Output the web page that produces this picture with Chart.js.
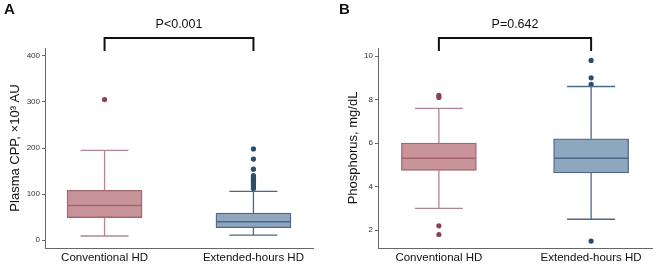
<!DOCTYPE html>
<html>
<head>
<meta charset="utf-8">
<script src="https://cdn.jsdelivr.net/npm/chart.js@4.4.1/dist/chart.umd.min.js"></script>
<style>
  html, body { margin: 0; padding: 0; background: #fff; }
  body { width: 661px; height: 275px; position: relative; overflow: hidden; font-family: "Liberation Sans", Arial, sans-serif; }
  .panel { position: absolute; top: 0; height: 275px; }
  #wrapA { left: 0; width: 330px; }
  #wrapB { left: 330px; width: 331px; }
  .tag { position: absolute; top: 0; font: bold 15px "Liberation Sans", Arial, sans-serif; color: #111; }
</style>
</head>
<body>
<div class="panel" id="wrapA"><canvas id="chartA" width="330" height="275"></canvas></div>
<div class="panel" id="wrapB"><canvas id="chartB" width="331" height="275"></canvas></div>
<div class="tag" style="left:4px">A</div>
<div class="tag" style="left:339px">B</div>
<script>
// 그룹 이름
var groups = ['Conventional HD', 'Extended-hours HD'];

// A: Plasma CPP (x10^3 AU)
var cppLow = [9, 11];
var cppQ1 = [49, 27];
var cppMed = [75, 40];
var cppQ3 = [108, 59];
var cppHigh = [195, 106];
var cppOutConv = [305];
var cppOutExt = [198, 176, 154, 140, 136, 132, 128, 124, 120, 116, 112];
var cppTicks = [0, 100, 200, 300, 400];

// B: Phosphorus (mg/dL)
var phLow = [3.0, 2.5];
var phQ1 = [4.75, 4.63];
var phMed = [5.3, 5.3];
var phQ3 = [6.0, 6.2];
var phHigh = [7.6, 8.6];
var phOutConv = [8.2, 8.1, 2.2, 1.8];
var phOutExt = [9.8, 9.0, 8.7, 1.5];
var phTicks = [2, 4, 6, 8, 10];

var fills = ['#c9939a', '#8fa6bf'];
var edges = ['#a4656e', '#4d6786'];
var whiskerColors = ['#b3858c', '#4d6786'];
var dotColors = ['#8a4255', '#2c4c6c'];

// 수염, 중앙값, p값 괄호 그리기
var boxPlugin = {
  id: 'boxParts',
  afterDatasetsDraw: function (chart) {
    var o = chart.options.plugins.boxParts;
    var xs = chart.scales.x, ys = chart.scales.y;
    var c = chart.ctx;
    c.save();
    for (var i = 0; i < groups.length; i++) {
      var cx = xs.getPixelForValue(i);
      var half = 37, cap = 24;
      c.lineWidth = 1.3;
      c.strokeStyle = whiskerColors[i];
      c.beginPath();
      c.moveTo(cx, ys.getPixelForValue(o.q3[i]));
      c.lineTo(cx, ys.getPixelForValue(o.high[i]));
      c.moveTo(cx - cap, ys.getPixelForValue(o.high[i]));
      c.lineTo(cx + cap, ys.getPixelForValue(o.high[i]));
      c.moveTo(cx, ys.getPixelForValue(o.q1[i]));
      c.lineTo(cx, ys.getPixelForValue(o.low[i]));
      c.moveTo(cx - cap, ys.getPixelForValue(o.low[i]));
      c.lineTo(cx + cap, ys.getPixelForValue(o.low[i]));
      c.stroke();
      c.strokeStyle = edges[i];
      c.lineWidth = 1.5;
      c.beginPath();
      c.moveTo(cx - half, ys.getPixelForValue(o.med[i]));
      c.lineTo(cx + half, ys.getPixelForValue(o.med[i]));
      c.stroke();
    }
    // 괄호
    var x0 = xs.getPixelForValue(0), x1 = xs.getPixelForValue(1);
    c.strokeStyle = '#111';
    c.lineWidth = 2;
    c.beginPath();
    c.moveTo(x0, 51);
    c.lineTo(x0, 38);
    c.lineTo(x1, 38);
    c.lineTo(x1, 51);
    c.stroke();
    c.fillStyle = '#111';
    c.font = '12.5px "Liberation Sans", Arial, sans-serif';
    c.textAlign = 'center';
    c.textBaseline = 'middle';
    c.fillText(o.pText, (x0 + x1) / 2, 25);
    c.restore();
  }
};

function makeChart(id, cfg) {
  var ctx = document.getElementById(id).getContext('2d');
  var outPts = function (vals, gi) {
    return vals.map(function (v) { return { x: gi, y: v }; });
  };
  return new Chart(ctx, {
    type: 'bar',
    data: {
      datasets: [
        {
          type: 'bar',
          data: [
            { x: 0, y: [cfg.q1[0], cfg.q3[0]] },
            { x: 1, y: [cfg.q1[1], cfg.q3[1]] },
          ],
          backgroundColor: fills,
          borderColor: edges,
          borderWidth: 1.3,
          borderSkipped: false,
          barThickness: 75,
        },
        {
          type: 'scatter',
          data: outPts(cfg.outConv, 0),
          pointRadius: 2.6,
          pointBackgroundColor: dotColors[0],
          pointBorderWidth: 0,
        },
        {
          type: 'scatter',
          data: outPts(cfg.outExt, 1),
          pointRadius: 2.6,
          pointBackgroundColor: dotColors[1],
          pointBorderWidth: 0,
        },
      ],
    },
    options: {
      responsive: false,
      animation: false,
      layout: { padding: { top: 48, right: cfg.padRight, left: cfg.padLeft, bottom: 0 } },
      plugins: {
        legend: { display: false },
        tooltip: { enabled: false },
        boxParts: cfg,
      },
      scales: {
        x: {
          type: 'linear',
          offset: false,
          min: -0.4,
          max: 1.4,
          afterBuildTicks: function (axis) {
            axis.ticks = [{ value: 0 }, { value: 1 }];
          },
          ticks: {
            callback: function (v) { return groups[v]; },
            color: '#111',
            font: { size: 11.5, family: '"Liberation Sans", Arial, sans-serif' },
            padding: 3,
            maxRotation: 0,
            autoSkip: false,
          },
          grid: { display: false, drawTicks: false, offset: false },
          border: { color: '#666', width: 1 },
          afterFit: function (axis) { axis.height = 27; },
        },
        y: {
          min: cfg.min,
          max: cfg.max,
          afterBuildTicks: function (axis) {
            axis.ticks = cfg.ticks.map(function (v) { return { value: v }; });
          },
          ticks: {
            color: '#333',
            font: { size: 8, family: '"Liberation Sans", Arial, sans-serif' },
            padding: 2,
          },
          grid: { drawOnChartArea: false, tickLength: 3, color: '#666' },
          border: { color: '#666', width: 1 },
          title: {
            display: true,
            text: cfg.title,
            color: '#111',
            font: { size: 13, family: '"Liberation Sans", Arial, sans-serif' },
            padding: { top: 0, bottom: 4 },
          },
          afterFit: function (axis) { axis.width = cfg.axisWidth; },
        },
      },
    },
    plugins: [boxPlugin],
  });
}

makeChart('chartA', {
  low: cppLow, q1: cppQ1, med: cppMed, q3: cppQ3, high: cppHigh,
  outConv: cppOutConv, outExt: cppOutExt, ticks: cppTicks,
  min: -17, max: 417, title: 'Plasma CPP, \u00d710\u00b3 AU',
  pText: 'P<0.001', axisWidth: 37, padLeft: 8, padRight: 17,
});

makeChart('chartB', {
  low: phLow, q1: phQ1, med: phMed, q3: phQ3, high: phHigh,
  outConv: phOutConv, outExt: phOutExt, ticks: phTicks,
  min: 1.18, max: 10.37, title: 'Phosphorus, mg/dL',
  pText: 'P=0.642', axisWidth: 32, padLeft: 16, padRight: 9,
});
</script>
</body>
</html>
